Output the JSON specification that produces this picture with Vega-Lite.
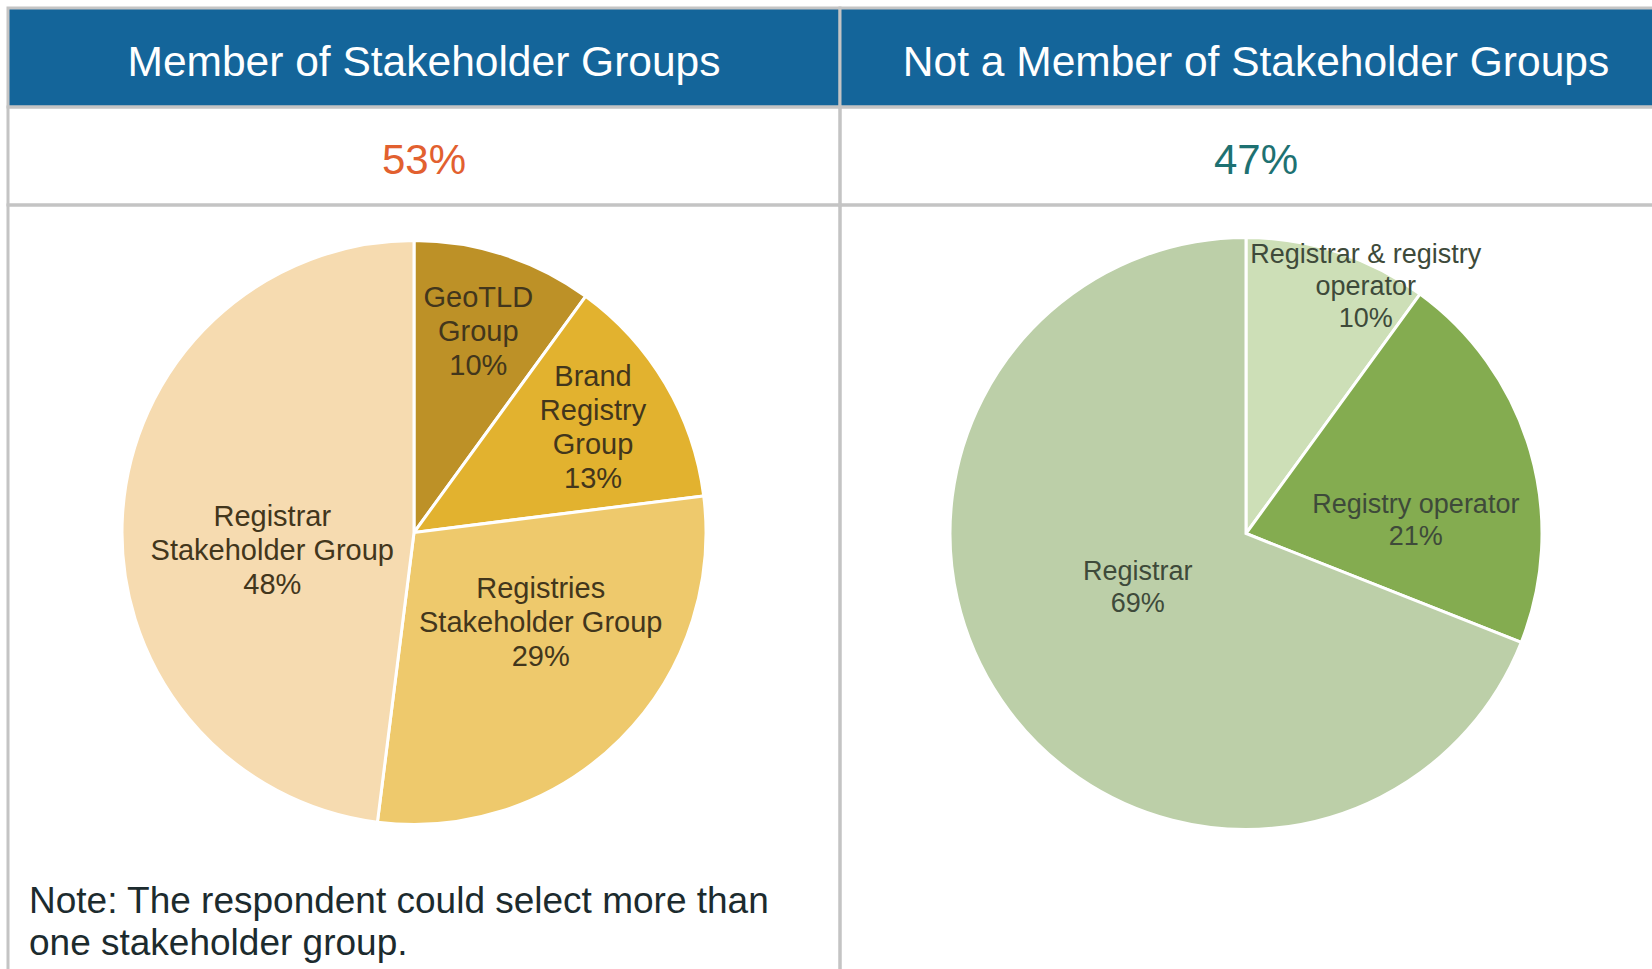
{
  "$schema": "https://vega.github.io/schema/vega-lite/v6.json",
  "padding": {"left": 6, "top": 6, "right": 0, "bottom": 0},
  "background": "white",
  "config": {
    "view": {"stroke": "#C4C4C4", "strokeWidth": 3},
    "font": "Liberation Sans"
  },
  "datasets": {
    "groups": [
      {"side": "member", "group": "Member of Stakeholder Groups", "share": 0.53},
      {"side": "non", "group": "Not a Member of Stakeholder Groups", "share": 0.47}
    ],
    "slices": [
      {"side": "member", "idx": 1, "key": "GeoTLD Group", "label": "GeoTLD\nGroup\n10%", "pct": 10},
      {"side": "member", "idx": 2, "key": "Brand Registry Group", "label": "Brand\nRegistry\nGroup\n13%", "pct": 13},
      {"side": "member", "idx": 3, "key": "Registries Stakeholder Group", "label": "Registries\nStakeholder Group\n29%", "pct": 29},
      {"side": "member", "idx": 4, "key": "Registrar Stakeholder Group", "label": "Registrar\nStakeholder Group\n48%", "pct": 48},
      {"side": "non", "idx": 1, "key": "Registrar & registry operator", "label": "Registrar & registry\noperator\n10%", "pct": 10},
      {"side": "non", "idx": 2, "key": "Registry operator", "label": "Registry operator\n21%", "pct": 21},
      {"side": "non", "idx": 3, "key": "Registrar", "label": "Registrar\n69%", "pct": 69}
    ]
  },
  "columns": 2,
  "spacing": 0,
  "bounds": "flush",
  "resolve": {"scale": {"color": "independent", "theta": "independent"}},
  "concat": [
    {
      "width": 832, "height": 99,
      "view": {"fill": "#14659A", "stroke": "#C4C4C4", "strokeWidth": 3},
      "data": {"name": "groups"},
      "transform": [{"filter": "datum.side === 'member'"}],
      "mark": {"type": "text", "fontSize": 42.5, "color": "#FFFFFF", "baseline": "middle", "align": "center", "dy": 5},
      "encoding": {"text": {"field": "group", "type": "nominal"}}
    },
    {
      "width": 832, "height": 99,
      "view": {"fill": "#14659A", "stroke": "#C4C4C4", "strokeWidth": 3},
      "data": {"name": "groups"},
      "transform": [{"filter": "datum.side === 'non'"}],
      "mark": {"type": "text", "fontSize": 42.5, "color": "#FFFFFF", "baseline": "middle", "align": "center", "dy": 5},
      "encoding": {"text": {"field": "group", "type": "nominal"}}
    },
    {
      "width": 832, "height": 98,
      "view": {"stroke": "#C4C4C4", "strokeWidth": 3},
      "data": {"name": "groups"},
      "transform": [{"filter": "datum.side === 'member'"}],
      "mark": {"type": "text", "fontSize": 42, "color": "#E2602F", "baseline": "middle", "align": "center", "dy": 5},
      "encoding": {"text": {"field": "share", "type": "quantitative", "format": ".0%"}}
    },
    {
      "width": 832, "height": 98,
      "view": {"stroke": "#C4C4C4", "strokeWidth": 3},
      "data": {"name": "groups"},
      "transform": [{"filter": "datum.side === 'non'"}],
      "mark": {"type": "text", "fontSize": 42, "color": "#1E7172", "baseline": "middle", "align": "center", "dy": 5},
      "encoding": {"text": {"field": "share", "type": "quantitative", "format": ".0%"}}
    },
    {
      "width": 832, "height": 775,
      "view": {"stroke": "#C4C4C4", "strokeWidth": 3},
      "title": {
        "text": ["Note: The respondent could select more than", "one stakeholder group."],
        "orient": "bottom", "anchor": "start", "frame": "group",
        "baseline": "alphabetic", "offset": -67, "dx": 21,
        "fontSize": 37, "fontWeight": "normal", "color": "#1C2B2E",
        "lineHeight": 42, "font": "Liberation Sans"
      },
      "data": {"name": "slices"},
      "transform": [{"filter": "datum.side === 'member'"}],
      "encoding": {
        "theta": {"field": "pct", "type": "quantitative", "stack": true},
        "order": {"field": "idx", "type": "quantitative"}
      },
      "layer": [
        {
          "mark": {"type": "arc", "radius": 292, "stroke": "#FFFFFF", "strokeWidth": 3, "xOffset": -10, "yOffset": -60},
          "encoding": {
            "color": {
              "field": "key", "type": "nominal", "legend": null,
              "scale": {
                "domain": ["GeoTLD Group", "Brand Registry Group", "Registries Stakeholder Group", "Registrar Stakeholder Group", "Registrar & registry operator", "Registry operator", "Registrar"],
                "range": ["#BD9127", "#E2B22F", "#EEC96C", "#F6DBB0", "#CDDFB7", "#84AC50", "#BCCFA8"]
              }
            }
          }
        },
        {
          "mark": {"type": "text", "radius": 208, "fontSize": 29, "lineHeight": 34, "lineBreak": "\n", "color": "#42361C", "baseline": "middle", "align": "center", "xOffset": -10, "yOffset": -60, "dy": -37},
          "encoding": {
            "detail": {"field": "key", "type": "nominal"},
            "text": {"condition": {"test": "datum.idx === 1", "field": "label"}, "value": ""}
          }
        },
        {
          "mark": {"type": "text", "radius": 208, "fontSize": 29, "lineHeight": 34, "lineBreak": "\n", "color": "#42361C", "baseline": "middle", "align": "center", "xOffset": -10, "yOffset": -60, "dy": -50},
          "encoding": {
            "detail": {"field": "key", "type": "nominal"},
            "text": {"condition": {"test": "datum.idx === 2", "field": "label"}, "value": ""}
          }
        },
        {
          "mark": {"type": "text", "radius": 158, "fontSize": 29, "lineHeight": 34, "lineBreak": "\n", "color": "#42361C", "baseline": "middle", "align": "center", "xOffset": -10, "yOffset": -60, "dx": 15, "dy": -55},
          "encoding": {
            "detail": {"field": "key", "type": "nominal"},
            "text": {"condition": {"test": "datum.idx === 3", "field": "label"}, "value": ""}
          }
        },
        {
          "mark": {"type": "text", "radius": 142, "fontSize": 29, "lineHeight": 34, "lineBreak": "\n", "color": "#42361C", "baseline": "middle", "align": "center", "xOffset": -10, "yOffset": -60, "dx": 0, "dy": -7},
          "encoding": {
            "detail": {"field": "key", "type": "nominal"},
            "text": {"condition": {"test": "datum.idx === 4", "field": "label"}, "value": ""}
          }
        }
      ]
    },
    {
      "width": 832, "height": 775,
      "view": {"stroke": "#C4C4C4", "strokeWidth": 3},
      "data": {"name": "slices"},
      "transform": [{"filter": "datum.side === 'non'"}],
      "encoding": {
        "theta": {"field": "pct", "type": "quantitative", "stack": true},
        "order": {"field": "idx", "type": "quantitative"}
      },
      "layer": [
        {
          "mark": {"type": "arc", "radius": 296, "stroke": "#FFFFFF", "strokeWidth": 3, "xOffset": -10, "yOffset": -59},
          "encoding": {
            "color": {
              "field": "key", "type": "nominal", "legend": null,
              "scale": {
                "domain": ["GeoTLD Group", "Brand Registry Group", "Registries Stakeholder Group", "Registrar Stakeholder Group", "Registrar & registry operator", "Registry operator", "Registrar"],
                "range": ["#BD9127", "#E2B22F", "#EEC96C", "#F6DBB0", "#CDDFB7", "#84AC50", "#BCCFA8"]
              }
            }
          }
        },
        {
          "mark": {"type": "text", "radius": 258, "fontSize": 27, "lineHeight": 32, "lineBreak": "\n", "color": "#3E4A3A", "baseline": "middle", "align": "center", "xOffset": -10, "yOffset": -59, "dx": 40, "dy": -33},
          "encoding": {
            "detail": {"field": "key", "type": "nominal"},
            "text": {"condition": {"test": "datum.idx === 1", "field": "label"}, "value": ""}
          }
        },
        {
          "mark": {"type": "text", "radius": 180, "fontSize": 27, "lineHeight": 32, "lineBreak": "\n", "color": "#3E4A3A", "baseline": "middle", "align": "center", "xOffset": -10, "yOffset": -59, "dx": -3, "dy": 22},
          "encoding": {
            "detail": {"field": "key", "type": "nominal"},
            "text": {"condition": {"test": "datum.idx === 2", "field": "label"}, "value": ""}
          }
        },
        {
          "mark": {"type": "text", "radius": 120, "fontSize": 27, "lineHeight": 32, "lineBreak": "\n", "color": "#3E4A3A", "baseline": "middle", "align": "center", "xOffset": -10, "yOffset": -59, "dx": -9, "dy": -29},
          "encoding": {
            "detail": {"field": "key", "type": "nominal"},
            "text": {"condition": {"test": "datum.idx === 3", "field": "label"}, "value": ""}
          }
        }
      ]
    }
  ]
}
